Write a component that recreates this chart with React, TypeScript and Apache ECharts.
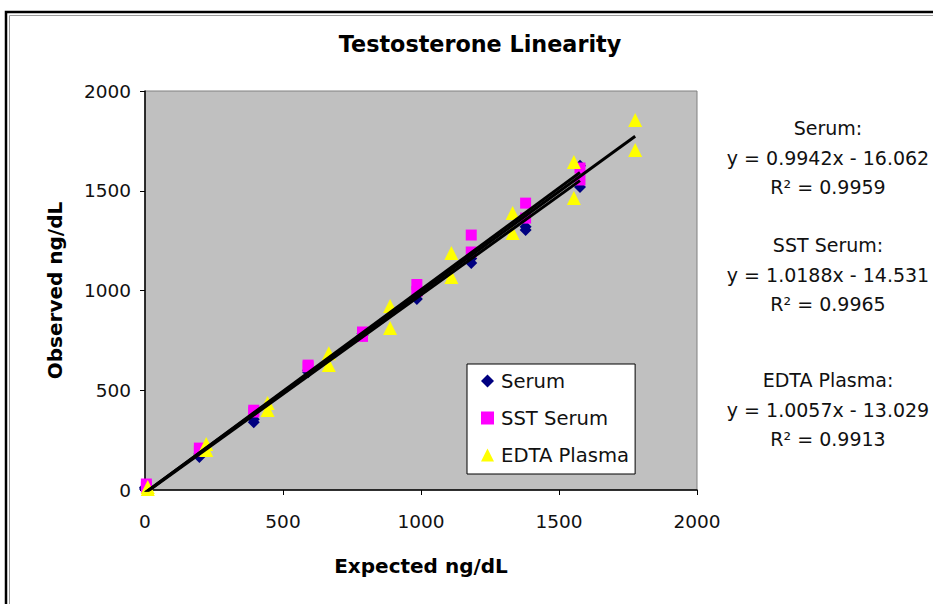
import React, { useEffect, useRef } from "react";
import * as echarts from "echarts";

const FONT = "DejaVu Sans";

const seriesNames = ["Serum", "SST Serum", "EDTA Plasma"];
const seriesColors = ["#000080", "#FF00FF", "#FFFF00"];
const seriesSymbols = ["diamond", "rect", "triangle"];
const seriesSymbolSizes = [12, 11, 14];

const serumExpected = [0, 197, 394, 591, 788, 985, 1182, 1379, 1576];
const serumObservedA = [5, 165, 340, 590, 775, 957, 1138, 1303, 1519];
const serumObservedB = [12, 180, 355, 600, 785, 975, 1160, 1320, 1625];

const sstExpected = [5, 197, 394, 591, 788, 985, 1182, 1379, 1576];
const sstObservedA = [30, 210, 391, 626, 792, 1030, 1278, 1438, 1614];
const sstObservedB = [15, 195, 400, 618, 770, 995, 1193, 1363, 1554];

const edtaExpected = [10, 222, 444, 666, 888, 1110, 1332, 1554, 1776];
const edtaObservedA = [5, 200, 401, 627, 812, 1068, 1288, 1464, 1704];
const edtaObservedB = [15, 230, 436, 686, 922, 1188, 1388, 1644, 1855];

// trendline coefficients (as printed) and x-range of each fitted series
const trendSlopes = [0.9942, 1.0188, 1.0057];
const trendIntercepts = [-16.062, -14.531, -13.029];
const trendXStart = [0, 0, 0];
const trendXEnd = [1576, 1576, 1776];

const equationLabels = [
  ["Serum:", "y = 0.9942x - 16.062", "R² = 0.9959"],
  ["SST Serum:", "y = 1.0188x - 14.531", "R² = 0.9965"],
  ["EDTA Plasma:", "y = 1.0057x - 13.029", "R² = 0.9913"],
];

const axisTicks = [0, 500, 1000, 1500, 2000];

function pairs(xs: number[], ysA: number[], ysB: number[]) {
  const out: number[][] = [];
  xs.forEach((x, i) => {
    out.push([x, ysA[i]]);
    out.push([x, ysB[i]]);
  });
  return out;
}

export default function App() {
  const ref = useRef<HTMLDivElement>(null);
  useEffect(() => {
    if (!ref.current) return;
    const chart = echarts.init(ref.current, null, { renderer: "svg" });
    const scatterData = [
      pairs(serumExpected, serumObservedA, serumObservedB),
      pairs(sstExpected, sstObservedA, sstObservedB),
      pairs(edtaExpected, edtaObservedA, edtaObservedB),
    ];
    const scatterSeries = seriesNames.map((name, i) => ({
      name,
      type: "scatter",
      data: scatterData[i],
      symbol: seriesSymbols[i],
      symbolSize: seriesSymbolSizes[i],
      itemStyle: { color: seriesColors[i], opacity: 1 },
      z: 2 + i,
    }));
    const trendSeries = trendSlopes.map((m, i) => ({
      name: "trend" + i,
      type: "line",
      data: [
        [trendXStart[i], m * trendXStart[i] + trendIntercepts[i]],
        [trendXEnd[i], m * trendXEnd[i] + trendIntercepts[i]],
      ],
      symbol: "none",
      lineStyle: { color: "#000", width: 3 },
      clip: true,
      z: 10,
      silent: true,
    }));

    const eqGraphics: any[] = [];
    const blockY = [128, 245, 380];
    const lineGap = [0, 29.5, 59];
    equationLabels.forEach((lines, b) => {
      lines.forEach((t, j) => {
        eqGraphics.push({
          type: "text",
          x: 828,
          y: blockY[b] + lineGap[j],
          style: {
            text: t,
            fill: "#111",
            font: `19px '${FONT}'`,
            textAlign: "center",
            textVerticalAlign: "middle",
          },
        });
      });
    });

    const axisCommon = {
      type: "value",
      min: 0,
      max: 2000,
      interval: 500,
      axisLine: { show: true, lineStyle: { color: "#000", width: 1.5 } },
      axisTick: { show: true, length: 5, inside: false, lineStyle: { color: "#000" } },
      splitLine: { show: false },
      nameTextStyle: { fontFamily: FONT, fontSize: 20, fontWeight: "bold", color: "#000" },
    };

    chart.setOption({
      animation: false,
      backgroundColor: "#fff",
      grid: {
        left: 145,
        top: 91,
        width: 552,
        height: 399,
        show: true,
        backgroundColor: "#C0C0C0",
        borderColor: "#808080",
        borderWidth: 1,
      },
      legend: {
        data: seriesNames.map((n, i) => ({ name: n, icon: seriesSymbols[i] })),
        orient: "vertical",
        left: 467,
        top: 364,
        backgroundColor: "#fff",
        borderColor: "#000",
        borderWidth: 1,
        borderRadius: 0,
        padding: [7, 6, 9, 14],
        itemWidth: 13,
        itemHeight: 13,
        itemGap: 17,
        textStyle: { fontFamily: FONT, fontSize: 19.6, color: "#111", padding: [0, 0, 0, 2] },
        selectedMode: false,
      },
      xAxis: {
        ...axisCommon,
        name: "Expected ng/dL",
        nameLocation: "middle",
        nameGap: 66,
        axisLabel: {
          fontFamily: FONT,
          fontSize: 18.5,
          color: "#111",
          margin: 22,
          formatter: (v: number) => (axisTicks.includes(v) ? String(v) : ""),
        },
      },
      yAxis: {
        ...axisCommon,
        name: "Observed ng/dL",
        nameLocation: "middle",
        nameGap: 80,
        axisLabel: {
          fontFamily: FONT,
          fontSize: 18.5,
          color: "#111",
          margin: 14,
          formatter: (v: number) => (axisTicks.includes(v) ? String(v) : ""),
        },
      },
      series: [...scatterSeries, ...trendSeries],
      graphic: [
        {
          type: "text",
          x: 480,
          y: 44,
          style: {
            text: "Testosterone Linearity",
            fill: "#000",
            font: `bold 22.3px '${FONT}'`,
            textAlign: "center",
            textVerticalAlign: "middle",
          },
        },
        ...eqGraphics,
        {
          type: "rect",
          shape: { x: 6, y: 12, width: 1000, height: 700 },
          style: { fill: "none", stroke: "#000", lineWidth: 2.5 },
          silent: true,
        },
        {
          type: "rect",
          shape: { x: 9.5, y: 15.5, width: 1000, height: 700 },
          style: { fill: "none", stroke: "#999", lineWidth: 1 },
          silent: true,
        },
      ],
    });
    return () => chart.dispose();
  }, []);
  return (
    <div
      ref={ref}
      style={{ position: "fixed", left: 0, top: 0, width: 933, height: 604 }}
    />
  );
}
